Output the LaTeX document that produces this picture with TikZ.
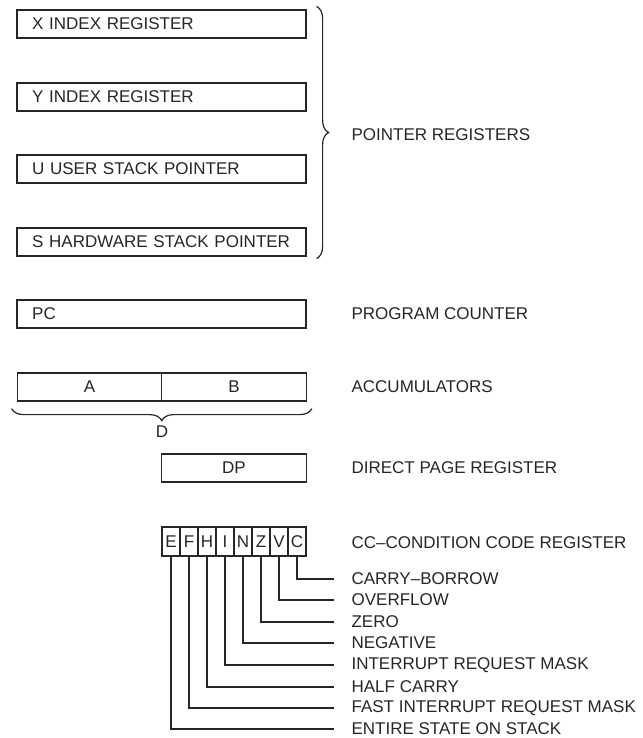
\documentclass[tikz,border=0pt]{standalone}
\usepackage{fontspec}
\setmainfont{Liberation Sans}
\usepackage{tikz}
\usetikzlibrary{positioning, decorations.pathreplacing}

\begin{document}
\begin{tikzpicture}[x=0.75pt, y=-0.75pt, color=black!85, line width=0.9pt, node distance=13.5pt,
    font=\fontsize{12.75}{15}\selectfont,
    reg/.style={draw, minimum height=21pt, text width=194pt, inner xsep=11.375pt, inner ysep=0pt},
    half/.style={draw, minimum height=21pt, minimum width=108.4pt, inner sep=0pt},
    bit/.style={draw, minimum height=21.75pt, minimum width=13.5pt, inner sep=0pt},
    lbl/.style={anchor=west, inner xsep=0pt},
    tap/.style={shorten >=12.75pt},
    brace/.style={decorate, decoration={brace, amplitude=9pt}}]
    \useasboundingbox (0,0) rectangle (642,738);

    % pointer registers
    \node[reg] (xreg) at (161.5,24)  {X INDEX REGISTER};
    \node[reg] (yreg) at (161.5,97)  {Y INDEX REGISTER};
    \node[reg] (ureg) at (161.5,169) {U USER STACK POINTER};
    \node[reg] (sreg) at (161.5,242) {\mbox{S HARDWARE STACK POINTER}};
    \draw[brace] ([xshift=7.5pt, yshift=2.25pt]xreg.north east) -- ([xshift=7.5pt, yshift=-1.5pt]sreg.south east);
    \node[lbl] (lptr) at (351,135) {POINTER REGISTERS};

    % program counter, accumulators, direct page
    \node[reg] (pc) at (161.5,314) {PC};
    \node[lbl] (lpc) at (351,314) {PROGRAM COUNTER};
    \node[half] (acca) at (89.5,387) {A};
    \node[half] (accb) at (234,387)  {B};
    \node[lbl] (lacc) at (351,387) {ACCUMULATORS};
    \draw[brace] ([xshift=3.75pt, yshift=-5.25pt]accb.south east) -- ([xshift=-3.75pt, yshift=-5.25pt]acca.south west);
    \node (ld) at (162,432) {D};
    \node[half] (dp) at (234,468) {DP};
    \node[lbl] (ldp) at (351,468) {DIRECT PAGE REGISTER};

    % condition code register
    \node[bit] (e) at (171,541.5) {E};
    \node[bit] (f) [right of=e] {F};
    \node[bit] (h) [right of=f] {H};
    \node[bit] (i) [right of=h] {I};
    \node[bit] (n) [right of=i] {N};
    \node[bit] (z) [right of=n] {Z};
    \node[bit] (v) [right of=z] {V};
    \node[bit] (c) [right of=v] {C};
    \node[lbl] (lcc) at (351,543) {CC--CONDITION CODE REGISTER};

    \node[lbl] (lc) at (351,579) {CARRY--BORROW};
    \node[lbl] (lv) at (351,600) {OVERFLOW};
    \node[lbl] (lz) at (351,622) {ZERO};
    \node[lbl] (ln) at (351,643) {NEGATIVE};
    \node[lbl] (li) at (351,665) {INTERRUPT REQUEST MASK};
    \node[lbl] (lh) at (351,687) {HALF CARRY};
    \node[lbl] (lf) at (351,708) {FAST INTERRUPT REQUEST MASK};
    \node[lbl] (le) at (351,729) {ENTIRE STATE ON STACK};

    \draw[tap] (c.south) |- (lc.west);
    \draw[tap] (v.south) |- (lv.west);
    \draw[tap] (z.south) |- (lz.west);
    \draw[tap] (n.south) |- (ln.west);
    \draw[tap] (i.south) |- (li.west);
    \draw[tap] (h.south) |- (lh.west);
    \draw[tap] (f.south) |- (lf.west);
    \draw[tap] (e.south) |- (le.west);
\end{tikzpicture}
\end{document}
